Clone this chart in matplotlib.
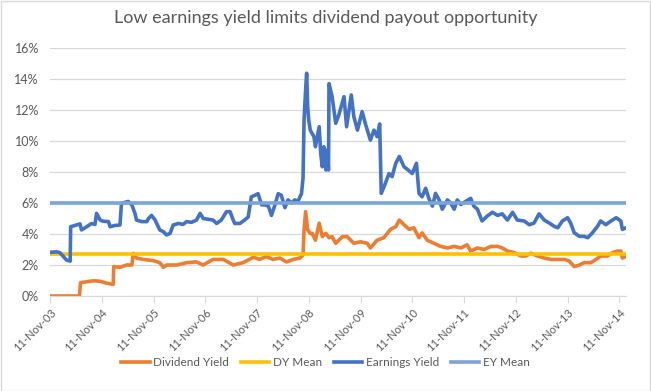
import pandas as pd
import matplotlib
matplotlib.use("Agg")
import matplotlib.pyplot as plt
import matplotlib.dates as mdates
from matplotlib.ticker import PercentFormatter, MultipleLocator
from matplotlib.patches import Rectangle

# dates given as decimal years, values in %
dy_t = [2003.86, 2004.43, 2004.45, 2004.57, 2004.70, 2004.83, 2004.95, 2005.08, 2005.09, 2005.21,
        2005.34, 2005.44, 2005.47, 2005.53, 2005.66, 2005.86, 2005.98, 2006.05, 2006.11, 2006.31,
        2006.50, 2006.69, 2006.82, 2007.01, 2007.21, 2007.40, 2007.59, 2007.79, 2007.91, 2008.04,
        2008.17, 2008.30, 2008.43, 2008.56, 2008.69, 2008.75, 2008.77, 2008.80, 2008.84, 2008.89,
        2008.93, 2008.99, 2009.06, 2009.12, 2009.19, 2009.25, 2009.31, 2009.38, 2009.44, 2009.51,
        2009.60, 2009.73, 2009.86, 2009.99, 2010.05, 2010.18, 2010.31, 2010.44, 2010.54, 2010.61,
        2010.70, 2010.80, 2010.89, 2010.99, 2011.05, 2011.15, 2011.28, 2011.41, 2011.54, 2011.67,
        2011.80, 2011.92, 2011.99, 2012.12, 2012.25, 2012.38, 2012.51, 2012.60, 2012.70, 2012.83,
        2012.96, 2013.05, 2013.15, 2013.28, 2013.41, 2013.54, 2013.67, 2013.80, 2013.89, 2013.99,
        2014.09, 2014.18, 2014.31, 2014.41, 2014.50, 2014.63, 2014.73, 2014.83, 2014.89, 2014.92,
        2014.99]
dy_v = [0.0, 0.0, 0.86, 0.92, 0.98, 0.95, 0.83, 0.75, 1.9, 1.85,
        2.0, 2.0, 2.75, 2.45, 2.36, 2.28, 2.15, 1.85, 2.0, 2.0,
        2.15, 2.2, 2.0, 2.36, 2.36, 2.0, 2.15, 2.5, 2.36, 2.55,
        2.36, 2.45, 2.2, 2.36, 2.45, 2.65, 4.26, 5.44, 4.26, 4.04,
        4.04, 3.6, 4.7, 3.83, 4.04, 3.76, 3.83, 3.4, 3.6, 3.83,
        3.83, 3.4, 3.5, 3.4, 3.1, 3.6, 3.76, 4.3, 4.47, 4.9,
        4.6, 4.3, 4.4, 3.76, 4.07, 3.6, 3.4, 3.2, 3.1, 3.2,
        3.1, 3.3, 2.9, 3.1, 3.0, 3.2, 3.2, 3.1, 2.9, 2.8,
        2.58, 2.58, 2.76, 2.58, 2.45, 2.36, 2.36, 2.36, 2.26, 1.9,
        2.0, 2.15, 2.15, 2.36, 2.58, 2.58, 2.8, 2.9, 2.9, 2.45,
        2.55]

ey_t = [2003.86, 2003.99, 2004.05, 2004.12, 2004.18, 2004.25, 2004.26, 2004.37, 2004.44, 2004.47,
        2004.57, 2004.66, 2004.73, 2004.76, 2004.83, 2004.89, 2004.99, 2005.02, 2005.11, 2005.21,
        2005.24, 2005.37, 2005.44, 2005.50, 2005.53, 2005.63, 2005.73, 2005.76, 2005.82, 2005.89,
        2005.92, 2005.98, 2006.05, 2006.11, 2006.18, 2006.24, 2006.34, 2006.43, 2006.50, 2006.59,
        2006.69, 2006.76, 2006.82, 2006.92, 2007.01, 2007.08, 2007.17, 2007.27, 2007.34, 2007.40,
        2007.43, 2007.53, 2007.62, 2007.69, 2007.75, 2007.82, 2007.88, 2007.95, 2008.01, 2008.08,
        2008.14, 2008.20, 2008.27, 2008.33, 2008.40, 2008.46, 2008.53, 2008.59, 2008.65, 2008.72,
        2008.75, 2008.77, 2008.80, 2008.82, 2008.84, 2008.86, 2008.89, 2008.96, 2008.99, 2009.06,
        2009.09, 2009.12, 2009.15, 2009.19, 2009.22, 2009.24, 2009.25, 2009.31, 2009.38, 2009.44,
        2009.54, 2009.59, 2009.68, 2009.73, 2009.80, 2009.89, 2009.96, 2010.05, 2010.12, 2010.18,
        2010.23, 2010.26, 2010.34, 2010.41, 2010.47, 2010.54, 2010.61, 2010.70, 2010.78, 2010.86,
        2010.94, 2010.99, 2011.05, 2011.12, 2011.18, 2011.25, 2011.31, 2011.38, 2011.44, 2011.54,
        2011.60, 2011.67, 2011.73, 2011.80, 2011.89, 2011.99, 2012.05, 2012.12, 2012.21, 2012.31,
        2012.41, 2012.51, 2012.60, 2012.70, 2012.80, 2012.89, 2013.02, 2013.12, 2013.21, 2013.31,
        2013.41, 2013.51, 2013.60, 2013.67, 2013.76, 2013.86, 2013.92, 2013.99, 2014.09, 2014.18,
        2014.25, 2014.34, 2014.44, 2014.50, 2014.60, 2014.70, 2014.80, 2014.89, 2014.92, 2014.99]
ey_v = [2.82, 2.85, 2.8, 2.54, 2.32, 2.25, 4.47, 4.58, 4.65, 4.26,
        4.47, 4.67, 4.62, 5.33, 4.9, 4.82, 4.8, 4.47, 4.55, 4.58,
        5.98, 6.1, 5.88, 5.33, 4.9, 4.8, 4.8, 5.0, 5.2, 4.9,
        4.68, 4.26, 4.15, 3.94, 4.04, 4.58, 4.68, 4.62, 4.8, 4.75,
        4.9, 5.33, 5.0, 4.95, 4.9, 4.68, 4.9, 5.44, 5.44, 4.9,
        4.68, 4.68, 4.9, 5.1, 6.4, 6.5, 6.6, 5.88, 5.88, 5.8,
        5.2, 5.8, 6.6, 6.5, 5.7, 6.2, 6.0, 6.2, 6.1, 6.6,
        7.6, 11.35, 13.3, 14.37, 12.2, 11.35, 10.7, 10.28, 9.63, 10.92,
        9.2, 8.34, 9.63, 8.13, 9.42, 8.13, 13.7, 12.86, 11.14, 11.68,
        12.86, 10.92, 12.97, 11.57, 10.7, 11.9, 11.03, 10.06, 10.7, 10.28,
        11.1, 6.62, 7.27, 7.9, 7.7, 8.56, 9.0, 8.34, 8.13, 7.9,
        8.56, 6.62, 6.4, 6.95, 6.3, 5.8, 6.62, 6.2, 5.6, 6.2,
        6.0, 5.6, 6.2, 5.9, 6.1, 6.3, 5.8, 5.6, 4.84, 5.16,
        5.4, 5.2, 5.3, 4.9, 5.4, 4.9, 4.84, 4.6, 4.7, 5.3,
        4.9, 4.7, 4.5, 4.4, 4.84, 5.05, 4.7, 4.07, 3.85, 3.85,
        3.76, 4.07, 4.5, 4.84, 4.6, 4.84, 5.05, 4.84, 4.3, 4.4]

dy_mean = 2.71
ey_mean = 6.02

tick_years = list(range(2003, 2015))
title = "Low earnings yield limits dividend payout opportunity"


def to_date(t):
    y = int(t)
    return pd.Timestamp(year=y, month=1, day=1) + pd.Timedelta(days=(t - y) * 365.25)


dy_dates = [to_date(t) for t in dy_t]
ey_dates = [to_date(t) for t in ey_t]

txt = "#595959"
plt.rcParams['font.family'] = ['Lato', 'DejaVu Sans']

fig = plt.figure(figsize=(6.51, 3.91), dpi=100)
ax = fig.add_axes([50 / 651, 1 - 296 / 391, 576 / 651, 248 / 391])

lw = 2.6
ax.plot(dy_dates, dy_v, color="#ED7D31", lw=lw, label="Dividend Yield", solid_joinstyle="round")
ax.axhline(dy_mean, color="#FFC000", lw=lw, label="DY Mean")
ax.plot(ey_dates, ey_v, color="#4472C4", lw=lw, label="Earnings Yield", solid_joinstyle="round")
ax.axhline(ey_mean, color="#7BA4DB", lw=lw, label="EY Mean")

ax.set_ylim(0, 16)
ax.yaxis.set_major_locator(MultipleLocator(2))
ax.yaxis.set_major_formatter(PercentFormatter(xmax=100, decimals=0))
ax.set_xlim(dy_dates[0], dy_dates[-1])
ax.set_xticks([pd.Timestamp(year=y, month=11, day=11) for y in tick_years])
ax.xaxis.set_major_formatter(mdates.DateFormatter("%d-%b-%y"))

ax.grid(axis="y", color="#D9D9D9", lw=0.9)
ax.set_axisbelow(True)
for s in ["top", "right", "left"]:
    ax.spines[s].set_visible(False)
ax.spines["bottom"].set_color("#D9D9D9")
ax.tick_params(axis="y", length=0, labelsize=9, labelcolor=txt, pad=8)
ax.tick_params(axis="x", length=5, color="#D9D9D9", labelsize=8, labelcolor=txt, pad=3)
for lab in ax.get_xticklabels():
    lab.set_rotation(45)
    lab.set_ha("right")
    lab.set_va("top")
    lab.set_rotation_mode("anchor")

fig.suptitle(title, x=0.5, y=1 - 18 / 391, va="center", fontsize=13, color=txt)

fig.legend(loc="center", bbox_to_anchor=(0.5, 1 - 363 / 391), ncol=4, frameon=False,
           fontsize=8.5, labelcolor=txt, handlelength=2.4, columnspacing=1.0, handletextpad=0.3)

fig.patches.append(Rectangle((0.001, 0.001), 0.997, 0.997, transform=fig.transFigure,
                             fill=False, edgecolor="#D9D9D9", lw=1))

fig.savefig("out.png", dpi=100, facecolor="white")
